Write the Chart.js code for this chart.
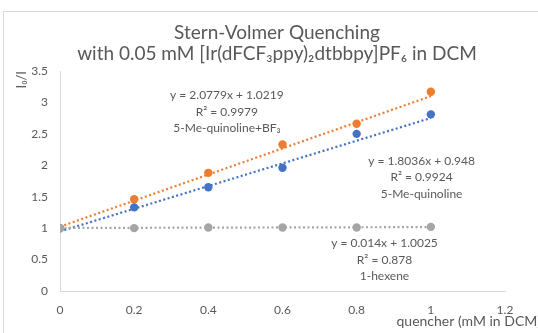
<!DOCTYPE html>
<html>
<head>
<meta charset="utf-8">
<script src="https://cdn.jsdelivr.net/npm/chart.js@4"></script>
<style>
html, body { margin: 0; padding: 0; background: #fff; }
#wrap { position: relative; width: 538px; height: 333px; overflow: hidden; }
#frame { position: absolute; left: 3px; top: 11px; width: 600px; height: 400px; border: 1px solid #d9d9d9; }
canvas { position: absolute; left: 0; top: 0; }
</style>
</head>
<body>
<div id="wrap"><div id="frame"></div><canvas id="chart" width="538" height="333"></canvas></div>
<script>
// values
var concentrations = [0, 0.2, 0.4, 0.6, 0.8, 1];
var quinolineBF3 = [1, 1.46, 1.88, 2.33, 2.66, 3.17];
var quinoline = [1, 1.33, 1.65, 1.96, 2.50, 2.81];
var hexene = [1, 1.00, 1.01, 1.01, 1.01, 1.02];

// trend lines, ends at x = 0 and x = 1 (from the equations)
var trendX = [0, 1];
var trendBF3 = [1.0219, 3.0998];
var trendQuinoline = [0.948, 2.7516];
var trendHexene = [1.0025, 1.0165];

var xTicks = [0, 0.2, 0.4, 0.6, 0.8, 1, 1.2];
var yTicks = [0, 0.5, 1, 1.5, 2, 2.5, 3, 3.5];

var titleLines = ["Stern-Volmer Quenching", "with 0.05 mM [Ir(dFCF\u2083ppy)\u2082dtbbpy]PF\u2086 in DCM"];
var labelBF3 = ["y = 2.0779x + 1.0219", "R\u00b2 = 0.9979", "5-Me-quinoline+BF\u2083"];
var labelQuinoline = ["y = 1.8036x + 0.948", "R\u00b2 = 0.9924", "5-Me-quinoline"];
var labelHexene = ["y = 0.014x + 1.0025", "R\u00b2 = 0.878", "1-hexene"];

var ORANGE = "#ED7D31", BLUE = "#4472C4", GREY = "#A5A5A5", TEXT = "#595959";
var FONT = "Lato, 'Open Sans', sans-serif";

function pts(xs, ys) {
    return xs.map(function (x, i) { return { x: x, y: ys[i] }; });
}

function trend(ys, color) {
    return {
        type: "line", data: pts(trendX, ys), borderColor: color, borderWidth: 2.2,
        borderDash: [2, 2.5], pointRadius: 0, fill: false, order: 2
    };
}

function points(ys, color) {
    return {
        type: "scatter", data: pts(concentrations, ys), backgroundColor: color,
        borderWidth: 0, pointRadius: 4.2, order: 1
    };
}

// equation labels, placed in data units
var notes = [
    { x: 0.45, y: 3.11, lines: labelBF3 },
    { x: 0.975, y: 2.07, lines: labelQuinoline },
    { x: 0.875, y: 0.76, lines: labelHexene }
];

var textPlugin = {
    id: "texts",
    afterDatasetsDraw: function (chart) {
        var c = chart.ctx, xs = chart.scales.x, ys = chart.scales.y;
        c.save();
        c.fillStyle = TEXT;
        c.textAlign = "center";
        c.textBaseline = "middle";
        // title, centred on the frame rather than the plot
        c.font = "19px " + FONT;
        titleLines.forEach(function (t, i) { c.fillText(t, 277, 33 + i * 21); });

        c.font = "12px " + FONT;
        notes.forEach(function (n) {
            var px = xs.getPixelForValue(n.x), py = ys.getPixelForValue(n.y);
            n.lines.forEach(function (t, i) { c.fillText(t, px, py + i * 16.5); });
        });
        // x axis title runs past the plot edge
        c.font = "14px " + FONT;
        c.textAlign = "right";
        c.textBaseline = "alphabetic";
        c.fillText("quencher (mM in DCM)", xs.right + 36, 326);
        c.restore();
    }
};

new Chart(document.getElementById("chart"), {
    data: {
        datasets: [
            trend(trendHexene, GREY), trend(trendQuinoline, BLUE), trend(trendBF3, ORANGE),
            points(hexene, GREY), points(quinoline, BLUE), points(quinolineBF3, ORANGE)
        ]
    },
    options: {
        responsive: false,
        animation: false,
        layout: { padding: { left: 0, right: 33, top: 71, bottom: 0 } },
        plugins: {
            legend: { display: false },
            tooltip: { enabled: false }
        },
        scales: {
            x: {
                type: "linear", min: 0, max: 1.2,
                afterBuildTicks: function (s) { s.ticks = xTicks.map(function (v) { return { value: v }; }); },
                afterFit: function (s) { s.height = 42; },
                grid: { display: false, drawTicks: false },
                border: { display: true, color: "#d9d9d9" },
                ticks: {
                    color: TEXT, font: { family: FONT, size: 12 }, padding: 12,
                    callback: function (v) { return String(v); }
                }
            },
            y: {
                type: "linear", min: 0, max: 3.5,
                afterBuildTicks: function (s) { s.ticks = yTicks.map(function (v) { return { value: v }; }); },
                afterFit: function (s) { s.width = 60; },
                grid: { display: false, drawTicks: false },
                border: { display: true, color: "#d9d9d9" },
                ticks: {
                    color: TEXT, font: { family: FONT, size: 12 }, padding: 12,
                    callback: function (v) { return String(v); }
                },
                title: {
                    display: true, text: "I\u2080/I", align: "end", color: TEXT,
                    font: { family: FONT, size: 13 }, padding: { top: 14, bottom: 0 }
                }
            }
        }
    },
    plugins: [textPlugin]
});
</script>
</body>
</html>
